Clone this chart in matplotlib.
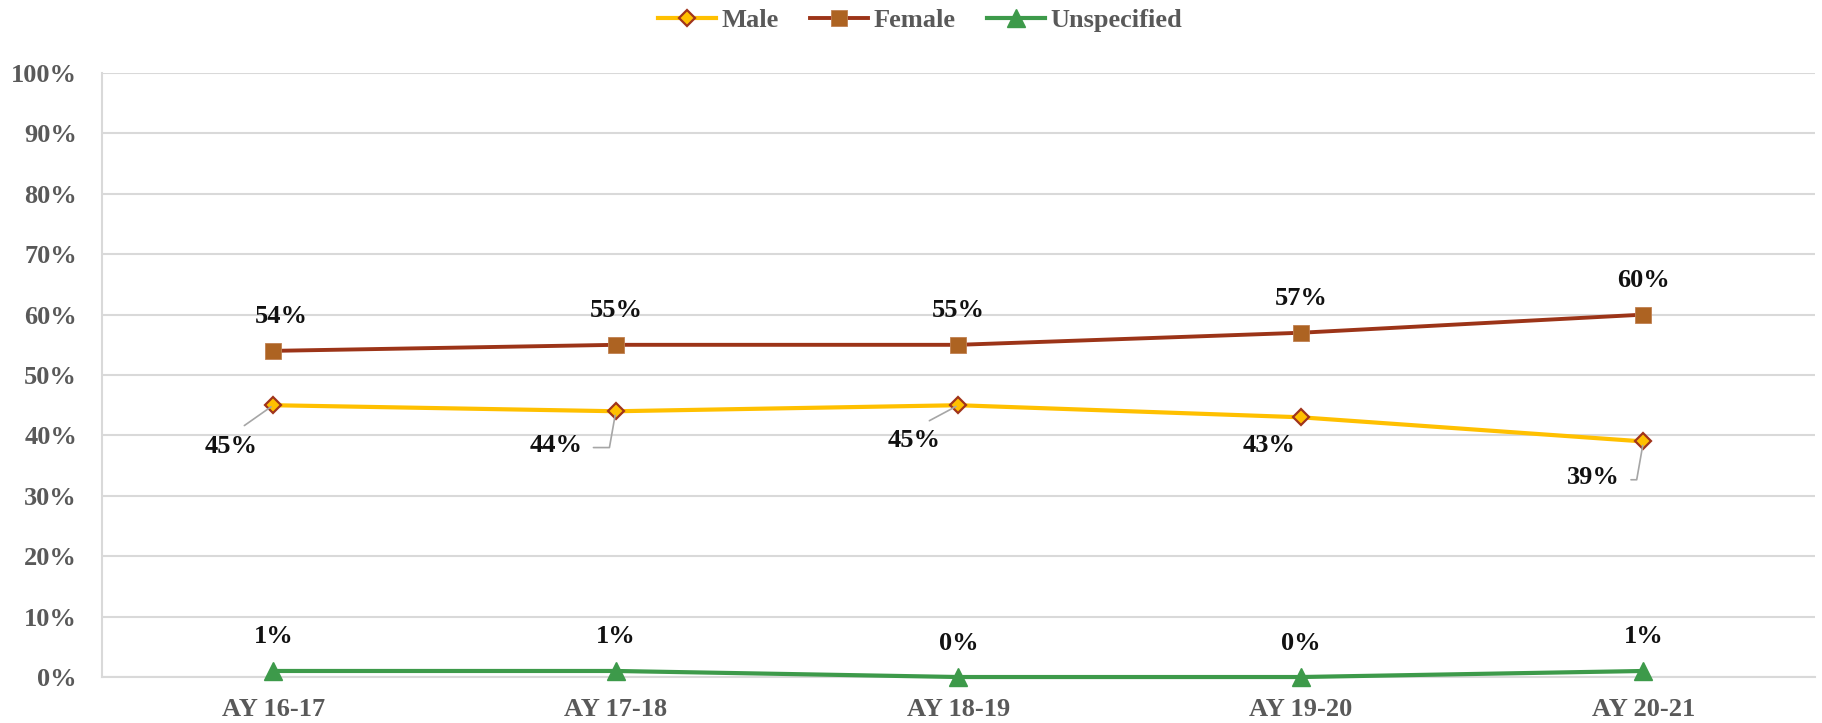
import matplotlib.pyplot as plt
from matplotlib.ticker import PercentFormatter

years = ['AY 16-17', 'AY 17-18', 'AY 18-19', 'AY 19-20', 'AY 20-21']
male = [45, 44, 45, 43, 39]
female = [54, 55, 55, 57, 60]
unspecified = [1, 1, 0, 0, 1]

# label offsets in pixels (dx, dy) and leader style for the male series
male_off = [(-42, -41), (-60, -34), (-44, -35), (-32, -28), (-50, -36)]
male_leader = ['straight', 'elbow', 'straight', None, 'elbow']

plt.rcParams['font.family'] = ['Liberation Serif', 'DejaVu Serif']
plt.rcParams['font.weight'] = 'bold'
FS = 19

fig = plt.figure(figsize=(18.22, 7.23), dpi=100)
ax = fig.add_axes([0.056, 0.0636, 0.94, 0.8354])

x = range(len(years))
ax.plot(x, male, color='#FFC000', lw=3, marker='D', ms=8,
        mfc='#FFC000', mec='#A0341C', mew=1.6, label='Male', zorder=3,
        clip_on=False)
ax.plot(x, female, color='#9C3418', lw=2.8, marker='s', ms=12,
        mfc='#AD6322', mec='#C08050', mew=0.6, label='Female', zorder=3,
        clip_on=False)
ax.plot(x, unspecified, color='#3D9A4A', lw=3, marker='^', ms=13,
        mfc='#3D9A4A', mec='#3D9A4A', label='Unspecified', zorder=3,
        clip_on=False)

lab = dict(fontsize=FS, color='#111111', ha='center', va='center',
           textcoords='offset pixels')
for i, v in enumerate(female):
    dx = 8 if i == 0 else 0
    ax.annotate(f'{v}%', (i, v), xytext=(dx, 34), **lab)
for i, v in enumerate(unspecified):
    ax.annotate(f'{v}%', (i, v), xytext=(0, 34), **lab)
for i, v in enumerate(male):
    ap = None
    if male_leader[i] == 'straight':
        ap = dict(arrowstyle='-', color='#A6A6A6', lw=1.2, relpos=(0.5, 1.0),
                  shrinkA=8, shrinkB=2)
    elif male_leader[i] == 'elbow':
        ap = dict(arrowstyle='-', color='#A6A6A6', lw=1.2, relpos=(1.0, 0.4),
                  shrinkA=6, shrinkB=3,
                  connectionstyle='angle,angleA=0,angleB=80,rad=0')
    ax.annotate(f'{v}%', (i, v), xytext=male_off[i], arrowprops=ap, **lab)

ax.set_xlim(-0.5, len(years) - 0.5)
ax.set_ylim(0, 100)
ax.set_yticks(range(0, 101, 10))
ax.yaxis.set_major_formatter(PercentFormatter(decimals=0))
ax.set_xticks(list(x))
ax.set_xticklabels(years, fontsize=FS + 1)
ax.tick_params(axis='both', length=0, labelsize=FS, labelcolor='#595959')
ax.tick_params(axis='y', pad=18)
ax.tick_params(axis='x', pad=15)

ax.grid(axis='y', color='#D9D9D9', lw=1.5)
ax.set_axisbelow(True)
for s in ['top', 'right']:
    ax.spines[s].set_visible(False)
for s in ['left', 'bottom']:
    ax.spines[s].set_color('#D9D9D9')
    ax.spines[s].set_linewidth(1.5)

fig.legend(loc='center', bbox_to_anchor=(0.505, 0.972), ncol=3, frameon=False,
           fontsize=FS, labelcolor='#595959', handlelength=2.2,
           columnspacing=1.2, handletextpad=0.2)

fig.savefig('out.png', dpi=100)
